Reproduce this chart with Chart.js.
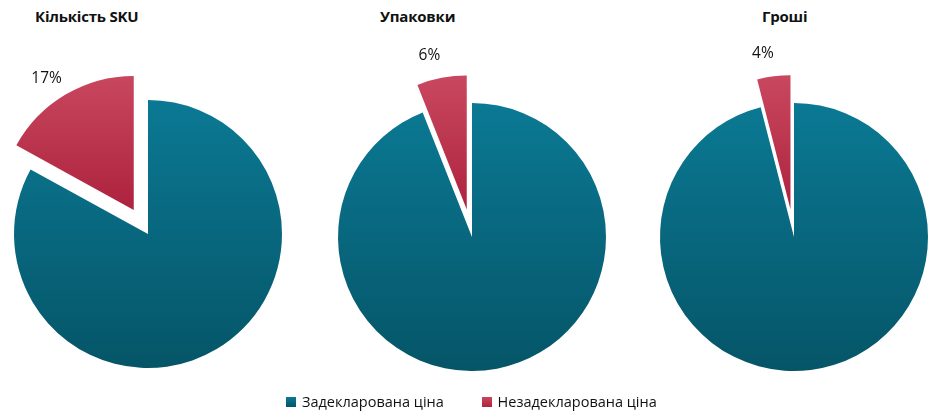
<!DOCTYPE html>
<html>
<head>
<meta charset="utf-8">
<script src="https://cdn.jsdelivr.net/npm/chart.js@4.4.0/dist/chart.umd.min.js"></script>
<style>
  html, body { margin: 0; padding: 0; background: #fff; }
  body { width: 945px; height: 419px; position: relative; overflow: hidden; font-family: "Open Sans", sans-serif; }
  .pie { position: absolute; top: 0; width: 400px; height: 460px; }
  .title { position: absolute; top: 6px; font-weight: bold; font-size: 15px; color: #111; white-space: nowrap; letter-spacing: -0.2px; }
  .legend { position: absolute; top: 392px; left: 286px; font-size: 14.5px; color: #111; white-space: nowrap; }
  .legend span.box { display: inline-block; width: 10px; height: 10px; margin-right: 6px; }
  .legend span.item { margin-right: 34px; }
</style>
</head>
<body>
<div class="title" id="t0"></div>
<div class="title" id="t1"></div>
<div class="title" id="t2"></div>
<div class="pie" id="w0"><canvas id="c0"></canvas></div>
<div class="pie" id="w1"><canvas id="c1"></canvas></div>
<div class="pie" id="w2"><canvas id="c2"></canvas></div>
<div class="legend" id="legend"></div>

<script>
const titles = ["Кількість SKU", "Упаковки", "Гроші"];
const categories = ["Задекларована ціна", "Незадекларована ціна"];
const declared = [83, 94, 96];
const undeclared = [17, 6, 4];

const centersX = [147.5, 471.5, 794];
const centersY = [234, 237, 237];
const titleLeft = [35, 380, 762];
const pieRadius = 134;
const explode = 28;
const blueTop = "#0b7994", blueBottom = "#055567";
const redTop = "#c9485f", redBottom = "#ae233f";

const legendEl = document.querySelector("#legend");
legendEl.innerHTML = `
  <span class="item"><span class="box" style="background:linear-gradient(${blueTop},${blueBottom})"></span>${categories[0]}</span>
  <span class="item"><span class="box" style="background:linear-gradient(${redTop},${redBottom})"></span>${categories[1]}</span>
`;

// pull the small slice out along its middle angle
const explodeSlice = {
  id: "explodeSlice",
  afterDatasetsUpdate(chart) {
    const arc = chart.getDatasetMeta(0).data[1];
    const mid = (arc.startAngle + arc.endAngle) / 2;
    arc.x += Math.cos(mid) * explode;
    arc.y += Math.sin(mid) * explode;
  }
};

const pctLabels = {
  id: "pctLabels",
  afterDatasetsDraw(chart) {
    const ctx = chart.ctx;
    const arc = chart.getDatasetMeta(0).data[1];
    const value = chart.data.datasets[0].data[1];
    const mid = (arc.startAngle + arc.endAngle) / 2 - 0.05;
    const x = arc.x + Math.cos(mid) * 158;
    const y = arc.y + Math.sin(mid) * 158;
    ctx.save();
    ctx.font = "15.5px 'Open Sans'";
    ctx.fillStyle = "#111";
    ctx.textAlign = "center";
    ctx.textBaseline = "middle";
    ctx.fillText(value + "%", x, y);
    ctx.restore();
  }
};

function makeGradient(chart, top, bottom, c1, c2) {
  const g = chart.ctx.createLinearGradient(0, top, 0, bottom);
  g.addColorStop(0, c1);
  g.addColorStop(1, c2);
  return g;
}

titles.forEach((title, i) => {
  const t = document.querySelector("#t" + i);
  t.textContent = title;
  t.style.left = titleLeft[i] + "px";

  const wrap = document.querySelector("#w" + i);
  wrap.style.left = (centersX[i] - 200) + "px";

  new Chart(document.querySelector("#c" + i), {
    type: "pie",
    data: {
      labels: categories,
      datasets: [{
        data: [declared[i], undeclared[i]],
        backgroundColor: function (context) {
          const chart = context.chart;
          const area = chart.chartArea;
          if (!area) return context.dataIndex === 0 ? blueTop : redTop;
          const cy = (area.top + area.bottom) / 2;
          if (context.dataIndex === 0) {
            return makeGradient(chart, cy - pieRadius, cy + pieRadius, blueTop, blueBottom);
          }
          return makeGradient(chart, cy - pieRadius - explode, cy - explode, redTop, redBottom);
        },
        borderWidth: 0
      }]
    },
    options: {
      responsive: true,
      maintainAspectRatio: false,
      animation: false,
      radius: pieRadius,
      layout: {
        padding: { left: 10, right: 10, top: centersY[i] - 190, bottom: 460 - (centersY[i] + 190) }
      },
      plugins: {
        legend: { display: false },
        tooltip: { enabled: false },
        title: { display: false }
      }
    },
    plugins: [explodeSlice, pctLabels]
  });
});
</script>
</body>
</html>
